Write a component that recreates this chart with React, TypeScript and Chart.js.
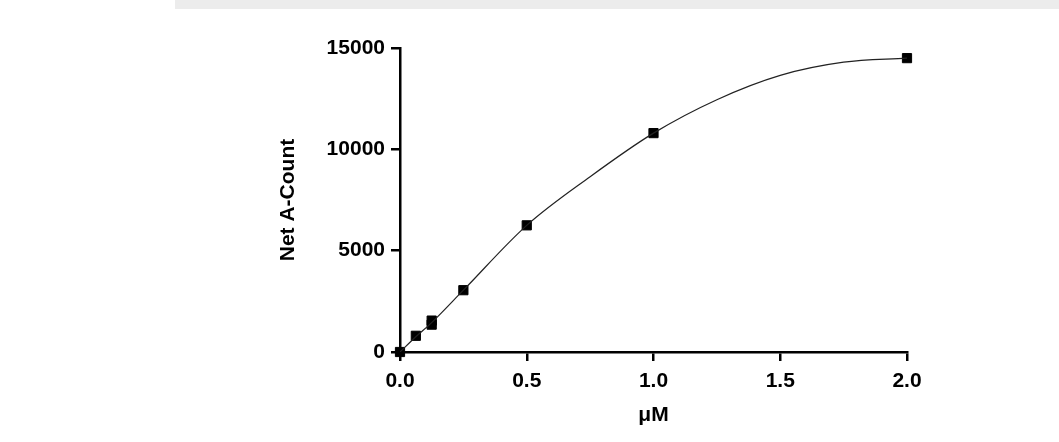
import { useEffect, useRef } from 'react'
import { Chart, registerables } from 'chart.js'

Chart.register(...registerables)

const concentrations = [0, 0.0625, 0.125, 0.125, 0.25, 0.5, 1, 2]
const netCounts = [0, 800, 1350, 1550, 3050, 6250, 10800, 14500]
const curveX = [0, 0.0625, 0.125, 0.25, 0.5, 0.75, 1, 1.25, 1.5, 1.75, 2]
const curveY = [0, 750, 1450, 3050, 6250, 8650, 10800, 12450, 13650, 14300, 14500]

export default function App() {
  const chartRef = useRef<HTMLCanvasElement>(null)
  const chartInstance = useRef<Chart | null>(null)

  useEffect(() => {
    document.body.style.margin = '0'
    if (!chartRef.current) return
    const ctx = chartRef.current.getContext('2d')
    if (!ctx) return
    const font = { family: 'Liberation Sans', size: 21, weight: 'bold' as const }

    chartInstance.current = new Chart(ctx, {
      type: 'scatter',
      data: {
        datasets: [
          {
            data: curveX.map((x, i) => ({ x, y: curveY[i] })),
            showLine: true,
            borderColor: '#222',
            borderWidth: 1.2,
            pointRadius: 0,
            cubicInterpolationMode: 'monotone',
          },
          {
            data: concentrations.map((x, i) => ({ x, y: netCounts[i] })),
            pointStyle: 'rect',
            pointRadius: 6.5,
            backgroundColor: '#000',
            borderColor: '#000',
            clip: false,
          },
        ],
      },
      options: {
        responsive: false,
        animation: false,
        layout: { padding: { left: 272, right: 152, top: 48, bottom: 10 } },
        plugins: { legend: { display: false }, tooltip: { enabled: false } },
        scales: {
          x: {
            type: 'linear',
            min: 0,
            max: 2,
            afterFit: (s: any) => { s.height = 80 },
            ticks: { stepSize: 0.5, color: '#000', font, padding: 8, callback: (v: any) => Number(v).toFixed(1) },
            grid: { drawOnChartArea: false, drawTicks: true, tickLength: 9, color: '#000', lineWidth: 2.5 },
            border: { color: '#000', width: 2.5 },
            title: { display: true, text: 'μM', color: '#000', font, padding: { top: 6 } },
          },
          y: {
            min: 0,
            max: 15000,
            afterFit: (s: any) => { s.width = 128 },
            ticks: { stepSize: 5000, color: '#000', font, padding: 6, callback: (v: any) => String(v) },
            grid: { drawOnChartArea: false, drawTicks: true, tickLength: 9, color: '#000', lineWidth: 2.5 },
            border: { color: '#000', width: 2.5 },
            title: { display: true, text: 'Net A-Count', color: '#000', font },
          },
        },
      },
    })

    return () => {
      chartInstance.current?.destroy()
    }
  }, [])

  return (
    <div style={{ position: 'relative', width: 1059, height: 442, background: '#fff' }}>
      <div style={{ position: 'absolute', left: 175, top: 0, right: 0, height: 9, background: '#ececec' }} />
      <canvas ref={chartRef} width={1059} height={442} />
    </div>
  )
}
